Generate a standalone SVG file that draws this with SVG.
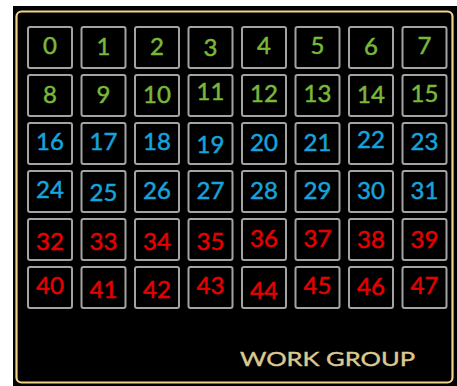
<svg xmlns="http://www.w3.org/2000/svg" width="457" height="386" viewBox="0 0 457 386">
<style>
.cell{fill:#000;stroke:#a3a3a3;stroke-width:2}
.t{font-family:Lato,"Open Sans",sans-serif;font-size:24px;text-anchor:middle;stroke-width:0.5}
.g{fill:#79b83b;stroke:#79b83b}.b{fill:#17a3db;stroke:#17a3db}.r{fill:#e60000;stroke:#e60000}
</style>
<rect x="13" y="6" width="444" height="380" fill="#000"/>
<rect x="16.5" y="11.5" width="436" height="371" rx="5" fill="none" stroke="#f2d489" stroke-width="2.2"/>
<g id="cells">
<g id="c0"><rect class="cell" x="28" y="27" width="44" height="41" rx="2"/><text class="t g" x="50" y="54">0</text></g>
<g id="c1"><rect class="cell" x="81.5" y="27" width="44" height="41" rx="2"/><text class="t g" x="103.5" y="55">1</text></g>
<g id="c2"><rect class="cell" x="135" y="27" width="44" height="41" rx="2"/><text class="t g" x="157" y="55">2</text></g>
<g id="c3"><rect class="cell" x="188.5" y="27" width="44" height="41" rx="2"/><text class="t g" x="210.5" y="56">3</text></g>
<g id="c4"><rect class="cell" x="242" y="27" width="44" height="41" rx="2"/><text class="t g" x="264" y="54">4</text></g>
<g id="c5"><rect class="cell" x="295.5" y="27" width="44" height="41" rx="2"/><text class="t g" x="317.5" y="54">5</text></g>
<g id="c6"><rect class="cell" x="349" y="27" width="44" height="41" rx="2"/><text class="t g" x="371" y="55">6</text></g>
<g id="c7"><rect class="cell" x="402.5" y="27" width="44" height="41" rx="2"/><text class="t g" x="424.5" y="54">7</text></g>

<g id="c8"><rect class="cell" x="28" y="75" width="44" height="41" rx="2"/><text class="t g" x="50" y="103">8</text></g>
<g id="c9"><rect class="cell" x="81.5" y="75" width="44" height="41" rx="2"/><text class="t g" x="103.5" y="103">9</text></g>
<g id="c10"><rect class="cell" x="135" y="75" width="44" height="41" rx="2"/><text class="t g" x="157" y="103">10</text></g>
<g id="c11"><rect class="cell" x="188.5" y="75" width="44" height="41" rx="2"/><text class="t g" x="210.5" y="100">11</text></g>
<g id="c12"><rect class="cell" x="242" y="75" width="44" height="41" rx="2"/><text class="t g" x="264" y="102">12</text></g>
<g id="c13"><rect class="cell" x="295.5" y="75" width="44" height="41" rx="2"/><text class="t g" x="317.5" y="102">13</text></g>
<g id="c14"><rect class="cell" x="349" y="75" width="44" height="41" rx="2"/><text class="t g" x="371" y="103">14</text></g>
<g id="c15"><rect class="cell" x="402.5" y="75" width="44" height="41" rx="2"/><text class="t g" x="424.5" y="102">15</text></g>

<g id="c16"><rect class="cell" x="28" y="123" width="44" height="41" rx="2"/><text class="t b" x="50" y="150">16</text></g>
<g id="c17"><rect class="cell" x="81.5" y="123" width="44" height="41" rx="2"/><text class="t b" x="103.5" y="150">17</text></g>
<g id="c18"><rect class="cell" x="135" y="123" width="44" height="41" rx="2"/><text class="t b" x="157" y="150">18</text></g>
<g id="c19"><rect class="cell" x="188.5" y="123" width="44" height="41" rx="2"/><text class="t b" x="210.5" y="153">19</text></g>
<g id="c20"><rect class="cell" x="242" y="123" width="44" height="41" rx="2"/><text class="t b" x="264" y="151">20</text></g>
<g id="c21"><rect class="cell" x="295.5" y="123" width="44" height="41" rx="2"/><text class="t b" x="317.5" y="151">21</text></g>
<g id="c22"><rect class="cell" x="349" y="123" width="44" height="41" rx="2"/><text class="t b" x="371" y="148">22</text></g>
<g id="c23"><rect class="cell" x="402.5" y="123" width="44" height="41" rx="2"/><text class="t b" x="424.5" y="150">23</text></g>

<g id="c24"><rect class="cell" x="28" y="171" width="44" height="41" rx="2"/><text class="t b" x="50" y="198">24</text></g>
<g id="c25"><rect class="cell" x="81.5" y="171" width="44" height="41" rx="2"/><text class="t b" x="103.5" y="201">25</text></g>
<g id="c26"><rect class="cell" x="135" y="171" width="44" height="41" rx="2"/><text class="t b" x="157" y="199">26</text></g>
<g id="c27"><rect class="cell" x="188.5" y="171" width="44" height="41" rx="2"/><text class="t b" x="210.5" y="199">27</text></g>
<g id="c28"><rect class="cell" x="242" y="171" width="44" height="41" rx="2"/><text class="t b" x="264" y="199">28</text></g>
<g id="c29"><rect class="cell" x="295.5" y="171" width="44" height="41" rx="2"/><text class="t b" x="317.5" y="199">29</text></g>
<g id="c30"><rect class="cell" x="349" y="171" width="44" height="41" rx="2"/><text class="t b" x="371" y="199">30</text></g>
<g id="c31"><rect class="cell" x="402.5" y="171" width="44" height="41" rx="2"/><text class="t b" x="424.5" y="199">31</text></g>

<g id="c32"><rect class="cell" x="28" y="219" width="44" height="41" rx="2"/><text class="t r" x="50" y="250">32</text></g>
<g id="c33"><rect class="cell" x="81.5" y="219" width="44" height="41" rx="2"/><text class="t r" x="103.5" y="250">33</text></g>
<g id="c34"><rect class="cell" x="135" y="219" width="44" height="41" rx="2"/><text class="t r" x="157" y="250">34</text></g>
<g id="c35"><rect class="cell" x="188.5" y="219" width="44" height="41" rx="2"/><text class="t r" x="210.5" y="250">35</text></g>
<g id="c36"><rect class="cell" x="242" y="219" width="44" height="41" rx="2"/><text class="t r" x="264" y="247">36</text></g>
<g id="c37"><rect class="cell" x="295.5" y="219" width="44" height="41" rx="2"/><text class="t r" x="317.5" y="247">37</text></g>
<g id="c38"><rect class="cell" x="349" y="219" width="44" height="41" rx="2"/><text class="t r" x="371" y="248">38</text></g>
<g id="c39"><rect class="cell" x="402.5" y="219" width="44" height="41" rx="2"/><text class="t r" x="424.5" y="248">39</text></g>

<g id="c40"><rect class="cell" x="28" y="267" width="44" height="41" rx="2"/><text class="t r" x="50" y="294">40</text></g>
<g id="c41"><rect class="cell" x="81.5" y="267" width="44" height="41" rx="2"/><text class="t r" x="103.5" y="298">41</text></g>
<g id="c42"><rect class="cell" x="135" y="267" width="44" height="41" rx="2"/><text class="t r" x="157" y="298">42</text></g>
<g id="c43"><rect class="cell" x="188.5" y="267" width="44" height="41" rx="2"/><text class="t r" x="210.5" y="294">43</text></g>
<g id="c44"><rect class="cell" x="242" y="267" width="44" height="41" rx="2"/><text class="t r" x="264" y="299">44</text></g>
<g id="c45"><rect class="cell" x="295.5" y="267" width="44" height="41" rx="2"/><text class="t r" x="317.5" y="294">45</text></g>
<g id="c46"><rect class="cell" x="349" y="267" width="44" height="41" rx="2"/><text class="t r" x="371" y="295">46</text></g>
<g id="c47"><rect class="cell" x="402.5" y="267" width="44" height="41" rx="2"/><text class="t r" x="424.5" y="294">47</text></g>
</g>
<g id="connectors"/>
<text x="240" y="366" font-family="Lato,'Open Sans',sans-serif" font-size="20" fill="#dcc98f" stroke="#dcc98f" stroke-width="0.4" textLength="175" lengthAdjust="spacingAndGlyphs">WORK GROUP</text>
</svg>
